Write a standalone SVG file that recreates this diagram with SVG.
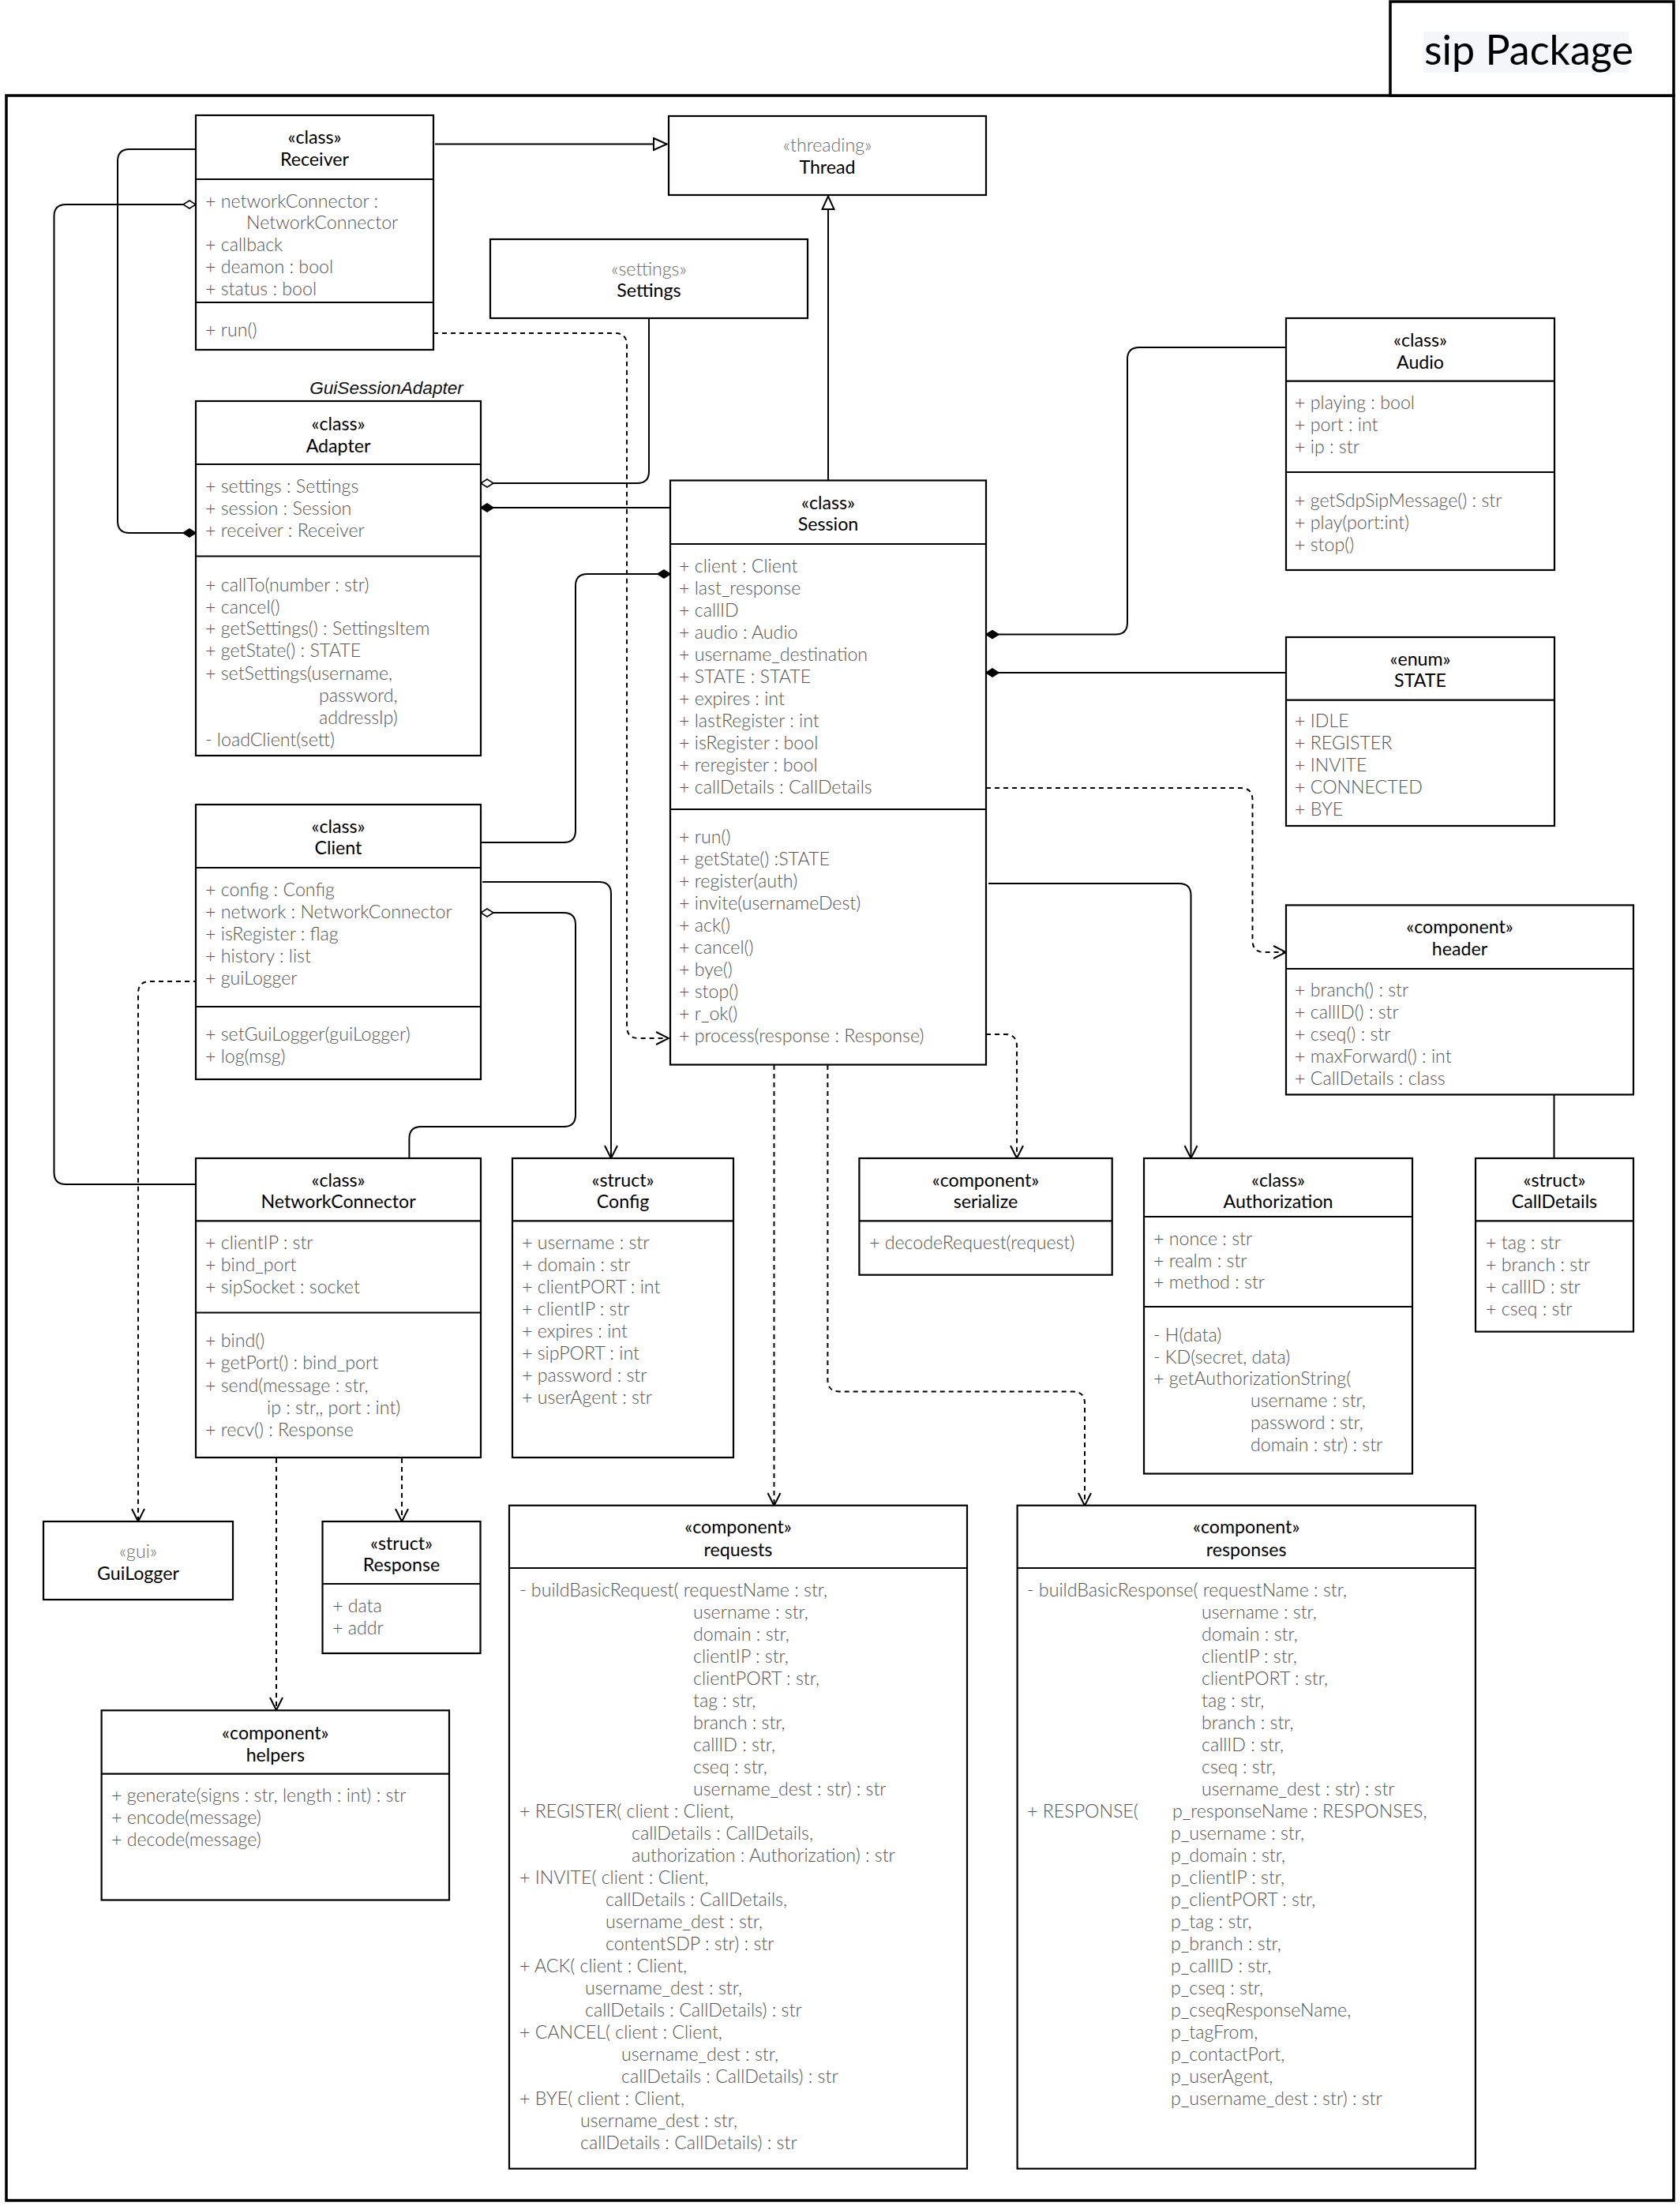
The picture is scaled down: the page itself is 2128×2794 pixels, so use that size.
<svg xmlns="http://www.w3.org/2000/svg" width="2128" height="2794" viewBox="0 0 2128 2794">
<style>
  text { font-family: Lato, "Open Sans", "Liberation Sans", sans-serif; font-size: 23.2px; }
  .box { fill: #fff; stroke: #000; stroke-width: 2.2; }
  .div { stroke: #000; stroke-width: 2.2; fill: none; }
  .ti { fill: #000; text-anchor: middle; }
  .sg { fill: #6a6a6a; text-anchor: middle; font-weight: 300; }
  .a { fill: #555; font-weight: 300; }
  .c { fill: none; stroke: #000; stroke-width: 2; }
  .d { stroke-dasharray: 6 5; }
</style>
<defs>
  <marker id="open" viewBox="0 0 18 18" refX="17" refY="9" markerWidth="18" markerHeight="18" markerUnits="userSpaceOnUse" orient="auto">
    <path d="M1,1 L17,9 L1,17" fill="none" stroke="#000" stroke-width="2"/>
  </marker>
  <marker id="tri" viewBox="0 0 19 18" refX="18" refY="9" markerWidth="19" markerHeight="18" markerUnits="userSpaceOnUse" orient="auto">
    <path d="M1,1.5 L17.5,9 L1,16.5 Z" fill="#fff" stroke="#000" stroke-width="2"/>
  </marker>
  <marker id="dFill" viewBox="-1 -1 18 12" refX="16" refY="5" markerWidth="18" markerHeight="12" markerUnits="userSpaceOnUse" orient="auto">
    <path d="M0,5 L8,0 L16,5 L8,10 Z" fill="#000" stroke="#000" stroke-width="1.5"/>
  </marker>
  <marker id="dHollow" viewBox="-1 -1 18 12" refX="16" refY="5" markerWidth="18" markerHeight="12" markerUnits="userSpaceOnUse" orient="auto">
    <path d="M0,5 L8,0 L16,5 L8,10 Z" fill="#fff" stroke="#000" stroke-width="1.5"/>
  </marker>
</defs>
<rect x="0" y="0" width="2128" height="2794" fill="#fff"/>

<g id="package-frame">
  <rect x="8" y="121" width="2112" height="2666" fill="none" stroke="#000" stroke-width="3.5"/>
  <rect x="1761" y="2" width="359" height="119" fill="#fff" stroke="#000" stroke-width="3.5"/>
  <rect x="1803" y="40" width="260" height="52" fill="#f4f6f9"/>
  <text x="1804" y="82" style="font-size:52px" fill="#000">sip Package</text>
</g>

<g id="connectors">
  <path class="c" d="M551,182.5 H845" marker-end="url(#tri)"/>
  <path class="c" d="M1049,608.5 V248" marker-end="url(#tri)"/>
  <path class="c" d="M248,189 H164 Q149,189 149,204 V660 Q149,675 164,675 H248" marker-end="url(#dFill)"/>
  <path class="c" d="M248,1500 H83.5 Q68.5,1500 68.5,1485 V274 Q68.5,259 83.5,259 H248" marker-end="url(#dHollow)"/>
  <path class="c d" d="M549,422 H779 Q794,422 794,437 V1300 Q794,1315 809,1315 H847" marker-end="url(#open)"/>
  <path class="c" d="M822,403 V597 Q822,612 807,612 H609" marker-end="url(#dHollow)"/>
  <path class="c" d="M849,643 H609" marker-end="url(#dFill)"/>
  <path class="c" d="M609,1067 H714 Q729,1067 729,1052 V742 Q729,727 744,727 H849" marker-end="url(#dFill)"/>
  <path class="c" d="M611,1117 H759 Q774,1117 774,1132 V1467" marker-end="url(#open)"/>
  <path class="c" d="M518.4,1467 V1442 Q518.4,1427 533.4,1427 H714 Q729,1427 729,1412 V1171 Q729,1156 714,1156 H609" marker-end="url(#dHollow)"/>
  <path class="c d" d="M251,1243 H190 Q175,1243 175,1258 V1927" marker-end="url(#open)"/>
  <path class="c d" d="M509,1847 V1927" marker-end="url(#open)"/>
  <path class="c d" d="M350,1847 V2166" marker-end="url(#open)"/>
  <path class="c d" d="M980.5,1349 V1907" marker-end="url(#open)"/>
  <path class="c d" d="M1048.4,1349 V1747.5 Q1048.4,1762.5 1063.4,1762.5 H1359 Q1374,1762.5 1374,1777.5 V1907" marker-end="url(#open)"/>
  <path class="c d" d="M1249,1310 H1273 Q1288,1310 1288,1325 V1467" marker-end="url(#open)"/>
  <path class="c" d="M1252,1119 H1493.5 Q1508.5,1119 1508.5,1134 V1467" marker-end="url(#open)"/>
  <path class="c d" d="M1249,998 H1571.5 Q1586.5,998 1586.5,1013 V1191 Q1586.5,1206 1601.5,1206 H1629" marker-end="url(#open)"/>
  <path class="c" d="M1629,440 H1443 Q1428,440 1428,455 V788.6 Q1428,803.6 1413,803.6 H1249" marker-end="url(#dFill)"/>
  <path class="c" d="M1629,852 H1249" marker-end="url(#dFill)"/>
  <path class="c" d="M1968.5,1386 V1467"/>
</g>

<g id="Receiver">
  <rect class="box" x="248" y="146" width="301" height="297"/>
  <path class="div" d="M248,227 H549 M248,383 H549"/>
  <text class="ti" x="398.5" y="182">«class»</text>
  <text class="ti" x="398.5" y="210">Receiver</text>
  <text class="a" x="260" y="262.5">+ networkConnector :</text>
  <text class="a" x="312" y="290">NetworkConnector</text>
  <text class="a" x="260" y="318">+ callback</text>
  <text class="a" x="260" y="346">+ deamon : bool</text>
  <text class="a" x="260" y="374">+ status : bool</text>
  <text class="a" x="260" y="426">+ run()</text>
</g>

<g id="Thread">
  <rect class="box" x="847" y="147" width="402" height="100"/>
  <text class="sg" x="1048" y="192">«threading»</text>
  <text class="ti" x="1048" y="219.5">Thread</text>
</g>

<g id="Settings">
  <rect class="box" x="621" y="303" width="402" height="100"/>
  <text class="sg" x="822" y="348.7">«settings»</text>
  <text class="ti" x="822" y="375.5">Settings</text>
</g>

<g id="Adapter">
  <text x="489.5" y="499" text-anchor="middle" fill="#111" font-style="italic" style="font-family:'Liberation Sans', Arial, sans-serif; font-size:22.6px">GuiSessionAdapter</text>
  <rect class="box" x="248" y="508" width="361" height="449"/>
  <path class="div" d="M248,588 H609 M248,704.5 H609"/>
  <text class="ti" x="428.5" y="545">«class»</text>
  <text class="ti" x="428.5" y="573">Adapter</text>
  <text class="a" x="260" y="624">+ settings : Settings</text>
  <text class="a" x="260" y="652">+ session : Session</text>
  <text class="a" x="260" y="680">+ receiver : Receiver</text>
  <text class="a" x="260" y="749">+ callTo(number : str)</text>
  <text class="a" x="260" y="777">+ cancel()</text>
  <text class="a" x="260" y="804">+ getSettings() : SettingsItem</text>
  <text class="a" x="260" y="832">+ getState() : STATE</text>
  <text class="a" x="260" y="860.7">+ setSettings(username,</text>
  <text class="a" x="404" y="888.8">password,</text>
  <text class="a" x="404" y="916.5">addressIp)</text>
  <text class="a" x="260" y="944.6">- loadClient(sett)</text>
</g>

<g id="Session">
  <rect class="box" x="849" y="608.5" width="400" height="740"/>
  <path class="div" d="M849,689 H1249 M849,1025 H1249"/>
  <text class="ti" x="1049" y="645">«class»</text>
  <text class="ti" x="1049" y="672">Session</text>
  <text class="a" x="860" y="724.5">+ client : Client</text>
  <text class="a" x="860" y="752.5">+ last_response</text>
  <text class="a" x="860" y="780.5">+ callID</text>
  <text class="a" x="860" y="808.5">+ audio : Audio</text>
  <text class="a" x="860" y="836.5">+ username_destination</text>
  <text class="a" x="860" y="864.5">+ STATE : STATE</text>
  <text class="a" x="860" y="892.5">+ expires : int</text>
  <text class="a" x="860" y="920.5">+ lastRegister : int</text>
  <text class="a" x="860" y="948.5">+ isRegister : bool</text>
  <text class="a" x="860" y="976.5">+ reregister : bool</text>
  <text class="a" x="860" y="1004.5">+ callDetails : CallDetails</text>
  <text class="a" x="860" y="1068">+ run()</text>
  <text class="a" x="860" y="1096">+ getState() :STATE</text>
  <text class="a" x="860" y="1124">+ register(auth)</text>
  <text class="a" x="860" y="1152">+ invite(usernameDest)</text>
  <text class="a" x="860" y="1180">+ ack()</text>
  <text class="a" x="860" y="1208">+ cancel()</text>
  <text class="a" x="860" y="1236">+ bye()</text>
  <text class="a" x="860" y="1264">+ stop()</text>
  <text class="a" x="860" y="1292">+ r_ok()</text>
  <text class="a" x="860" y="1320">+ process(response : Response)</text>
</g>

<g id="Audio">
  <rect class="box" x="1629" y="403" width="340" height="319"/>
  <path class="div" d="M1629,482.6 H1969 M1629,598 H1969"/>
  <text class="ti" x="1799" y="439">«class»</text>
  <text class="ti" x="1799" y="466.5">Audio</text>
  <text class="a" x="1640" y="518">+ playing : bool</text>
  <text class="a" x="1640" y="546">+ port : int</text>
  <text class="a" x="1640" y="574">+ ip : str</text>
  <text class="a" x="1640" y="642">+ getSdpSipMessage() : str</text>
  <text class="a" x="1640" y="670">+ play(port:int)</text>
  <text class="a" x="1640" y="698">+ stop()</text>
</g>

<g id="STATE">
  <rect class="box" x="1629" y="807" width="340" height="239"/>
  <path class="div" d="M1629,886.6 H1969"/>
  <text class="ti" x="1799" y="843">«enum»</text>
  <text class="ti" x="1799" y="870">STATE</text>
  <text class="a" x="1640" y="921">+ IDLE</text>
  <text class="a" x="1640" y="949">+ REGISTER</text>
  <text class="a" x="1640" y="977">+ INVITE</text>
  <text class="a" x="1640" y="1005">+ CONNECTED</text>
  <text class="a" x="1640" y="1033">+ BYE</text>
</g>

<g id="header">
  <rect class="box" x="1629" y="1146.4" width="440" height="240"/>
  <path class="div" d="M1629,1227 H2069"/>
  <text class="ti" x="1849" y="1182">«component»</text>
  <text class="ti" x="1849" y="1210">header</text>
  <text class="a" x="1640" y="1261.6">+ branch() : str</text>
  <text class="a" x="1640" y="1289.6">+ callID() : str</text>
  <text class="a" x="1640" y="1317.6">+ cseq() : str</text>
  <text class="a" x="1640" y="1345.6">+ maxForward() : int</text>
  <text class="a" x="1640" y="1373.6">+ CallDetails : class</text>
</g>

<g id="Client">
  <rect class="box" x="248" y="1019" width="361" height="348"/>
  <path class="div" d="M248,1099 H609 M248,1275 H609"/>
  <text class="ti" x="428.5" y="1055">«class»</text>
  <text class="ti" x="428.5" y="1082">Client</text>
  <text class="a" x="260" y="1135">+ config : Config</text>
  <text class="a" x="260" y="1163">+ network : NetworkConnector</text>
  <text class="a" x="260" y="1191">+ isRegister : flag</text>
  <text class="a" x="260" y="1219">+ history : list</text>
  <text class="a" x="260" y="1247">+ guiLogger</text>
  <text class="a" x="260" y="1318">+ setGuiLogger(guiLogger)</text>
  <text class="a" x="260" y="1346">+ log(msg)</text>
</g>

<g id="NetworkConnector">
  <rect class="box" x="248" y="1467" width="361" height="379"/>
  <path class="div" d="M248,1546.4 H609 M248,1662.5 H609"/>
  <text class="ti" x="428.5" y="1502.6">«class»</text>
  <text class="ti" x="428.5" y="1530">NetworkConnector</text>
  <text class="a" x="260" y="1582">+ clientIP : str</text>
  <text class="a" x="260" y="1610">+ bind_port</text>
  <text class="a" x="260" y="1638">+ sipSocket : socket</text>
  <text class="a" x="260" y="1706">+ bind()</text>
  <text class="a" x="260" y="1734">+ getPort() : bind_port</text>
  <text class="a" x="260" y="1763">+ send(message : str,</text>
  <text class="a" x="338" y="1791">ip : str,, port : int)</text>
  <text class="a" x="260" y="1819">+ recv() : Response</text>
</g>

<g id="Config">
  <rect class="box" x="649" y="1467" width="280" height="379"/>
  <path class="div" d="M649,1546.4 H929"/>
  <text class="ti" x="789" y="1502.6">«struct»</text>
  <text class="ti" x="789" y="1530">Config</text>
  <text class="a" x="661" y="1582">+ username : str</text>
  <text class="a" x="661" y="1610">+ domain : str</text>
  <text class="a" x="661" y="1638">+ clientPORT : int</text>
  <text class="a" x="661" y="1666">+ clientIP : str</text>
  <text class="a" x="661" y="1694">+ expires : int</text>
  <text class="a" x="661" y="1722">+ sipPORT : int</text>
  <text class="a" x="661" y="1750">+ password : str</text>
  <text class="a" x="661" y="1778">+ userAgent : str</text>
</g>

<g id="serialize">
  <rect class="box" x="1088.4" y="1467" width="320.3" height="147.7"/>
  <path class="div" d="M1088.4,1546.4 H1408.7"/>
  <text class="ti" x="1248.5" y="1502.6">«component»</text>
  <text class="ti" x="1248.5" y="1530">serialize</text>
  <text class="a" x="1101" y="1582">+ decodeRequest(request)</text>
</g>

<g id="Authorization">
  <rect class="box" x="1449" y="1467" width="340" height="399.5"/>
  <path class="div" d="M1449,1541 H1789 M1449,1655 H1789"/>
  <text class="ti" x="1619" y="1502.6">«class»</text>
  <text class="ti" x="1619" y="1530">Authorization</text>
  <text class="a" x="1461" y="1577">+ nonce : str</text>
  <text class="a" x="1461" y="1605">+ realm : str</text>
  <text class="a" x="1461" y="1632">+ method : str</text>
  <text class="a" x="1461" y="1698.6">- H(data)</text>
  <text class="a" x="1461" y="1726.6">- KD(secret, data)</text>
  <text class="a" x="1461" y="1754.4">+ getAuthorizationString(</text>
  <text class="a" x="1584" y="1782">username : str,</text>
  <text class="a" x="1584" y="1810">password : str,</text>
  <text class="a" x="1584" y="1838">domain : str) : str</text>
</g>

<g id="CallDetails">
  <rect class="box" x="1869" y="1467" width="200" height="219.6"/>
  <path class="div" d="M1869,1546.4 H2069"/>
  <text class="ti" x="1969" y="1502.6">«struct»</text>
  <text class="ti" x="1969" y="1530">CallDetails</text>
  <text class="a" x="1882" y="1582">+ tag : str</text>
  <text class="a" x="1882" y="1610">+ branch : str</text>
  <text class="a" x="1882" y="1638">+ callID : str</text>
  <text class="a" x="1882" y="1666">+ cseq : str</text>
</g>

<g id="GuiLogger">
  <rect class="box" x="55" y="1927" width="240" height="99"/>
  <text class="sg" x="175" y="1973">«gui»</text>
  <text class="ti" x="175" y="2001">GuiLogger</text>
</g>

<g id="Response">
  <rect class="box" x="408.5" y="1927" width="200" height="167"/>
  <path class="div" d="M408.5,2006 H608.5"/>
  <text class="ti" x="508.5" y="1962.5">«struct»</text>
  <text class="ti" x="508.5" y="1990">Response</text>
  <text class="a" x="421" y="2042">+ data</text>
  <text class="a" x="421" y="2070">+ addr</text>
</g>

<g id="helpers">
  <rect class="box" x="128.6" y="2166.3" width="440.4" height="240.2"/>
  <path class="div" d="M128.6,2246.7 H569"/>
  <text class="ti" x="348.8" y="2203">«component»</text>
  <text class="ti" x="348.8" y="2230.6">helpers</text>
  <text class="a" x="141" y="2282">+ generate(signs : str, length : int) : str</text>
  <text class="a" x="141" y="2310">+ encode(message)</text>
  <text class="a" x="141" y="2338">+ decode(message)</text>
</g>

<g id="requests">
  <rect class="box" x="645" y="1906.7" width="580" height="840"/>
  <path class="div" d="M645,1986 H1225"/>
  <text class="ti" x="935" y="1942">«component»</text>
  <text class="ti" x="935" y="1970.5">requests</text>
  <text class="a" x="658" y="2022">- buildBasicRequest( requestName : str,</text>
  <text class="a" x="878" y="2050">username : str,</text>
  <text class="a" x="878" y="2078">domain : str,</text>
  <text class="a" x="878" y="2106">clientIP : str,</text>
  <text class="a" x="878" y="2134">clientPORT : str,</text>
  <text class="a" x="878" y="2162">tag : str,</text>
  <text class="a" x="878" y="2190">branch : str,</text>
  <text class="a" x="878" y="2218">callID : str,</text>
  <text class="a" x="878" y="2246">cseq : str,</text>
  <text class="a" x="878" y="2274">username_dest : str) : str</text>
  <text class="a" x="658" y="2302">+ REGISTER( client : Client,</text>
  <text class="a" x="800" y="2330">callDetails : CallDetails,</text>
  <text class="a" x="800" y="2358">authorization : Authorization) : str</text>
  <text class="a" x="658" y="2386">+ INVITE( client : Client,</text>
  <text class="a" x="767" y="2414">callDetails : CallDetails,</text>
  <text class="a" x="767" y="2442">username_dest : str,</text>
  <text class="a" x="767" y="2470">contentSDP : str) : str</text>
  <text class="a" x="658" y="2498">+ ACK( client : Client,</text>
  <text class="a" x="741" y="2526">username_dest : str,</text>
  <text class="a" x="741" y="2554">callDetails : CallDetails) : str</text>
  <text class="a" x="658" y="2582">+ CANCEL( client : Client,</text>
  <text class="a" x="787" y="2610">username_dest : str,</text>
  <text class="a" x="787" y="2638">callDetails : CallDetails) : str</text>
  <text class="a" x="658" y="2666">+ BYE( client : Client,</text>
  <text class="a" x="735" y="2694">username_dest : str,</text>
  <text class="a" x="735" y="2722">callDetails : CallDetails) : str</text>
</g>

<g id="responses">
  <rect class="box" x="1288.6" y="1906.7" width="580.3" height="840"/>
  <path class="div" d="M1288.6,1986 H1868.9"/>
  <text class="ti" x="1578.7" y="1942">«component»</text>
  <text class="ti" x="1578.7" y="1970.5">responses</text>
  <text class="a" x="1301" y="2022">- buildBasicResponse( requestName : str,</text>
  <text class="a" x="1522" y="2050">username : str,</text>
  <text class="a" x="1522" y="2078">domain : str,</text>
  <text class="a" x="1522" y="2106">clientIP : str,</text>
  <text class="a" x="1522" y="2134">clientPORT : str,</text>
  <text class="a" x="1522" y="2162">tag : str,</text>
  <text class="a" x="1522" y="2190">branch : str,</text>
  <text class="a" x="1522" y="2218">callID : str,</text>
  <text class="a" x="1522" y="2246">cseq : str,</text>
  <text class="a" x="1522" y="2274">username_dest : str) : str</text>
  <text class="a" x="1301" y="2302">+ RESPONSE(</text>
  <text class="a" x="1485" y="2302">p_responseName : RESPONSES,</text>
  <text class="a" x="1483" y="2330">p_username : str,</text>
  <text class="a" x="1483" y="2358">p_domain : str,</text>
  <text class="a" x="1483" y="2386">p_clientIP : str,</text>
  <text class="a" x="1483" y="2414">p_clientPORT : str,</text>
  <text class="a" x="1483" y="2442">p_tag : str,</text>
  <text class="a" x="1483" y="2470">p_branch : str,</text>
  <text class="a" x="1483" y="2498">p_callID : str,</text>
  <text class="a" x="1483" y="2526">p_cseq : str,</text>
  <text class="a" x="1483" y="2554">p_cseqResponseName,</text>
  <text class="a" x="1483" y="2582">p_tagFrom,</text>
  <text class="a" x="1483" y="2610">p_contactPort,</text>
  <text class="a" x="1483" y="2638">p_userAgent,</text>
  <text class="a" x="1483" y="2666">p_username_dest : str) : str</text>
</g>
</svg>
